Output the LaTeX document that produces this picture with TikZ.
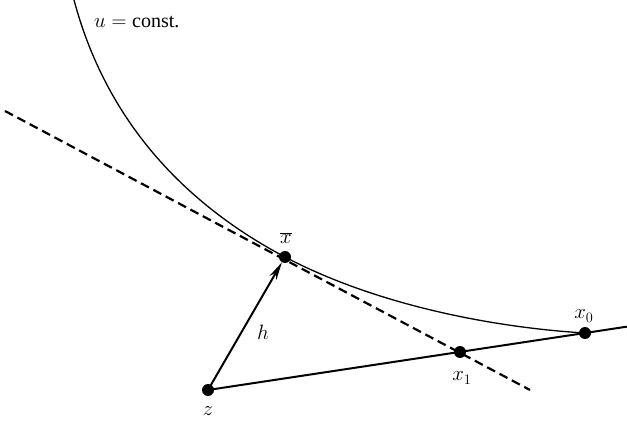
\documentclass[tikz,border=0pt]{standalone}
\usepackage{fontspec}
\setmainfont{Liberation Serif}
\usetikzlibrary{calc,arrows.meta}
\begin{document}
\begin{tikzpicture}[x=1pt,y=-1pt,
  pt/.style={circle,fill=black,inner sep=0pt,minimum size=12pt},
  lab/.style={inner sep=1pt,font=\fontsize{20}{24}\selectfont},
  solidline/.style={line width=2pt},
  dashline/.style={line width=2.2pt,dash pattern=on 9pt off 5pt},
  curveline/.style={line width=1.3pt}]
\useasboundingbox (0,0) rectangle (627,422);
\node[pt] (z) at (208,390) {};
\node[pt] (xb) at (285,257) {};
\node[pt] (x1) at (460,352) {};
\node[pt] (x0) at (585,333) {};
\coordinate (cs) at (74,0);
\coordinate (lineend) at ($(z)!1.111!(x0)$);
\coordinate (dstart) at ($(xb)!-1.6!(x1)+(0,6)$);
\coordinate (dend) at ($(xb)!1.40!(x1)$);
% curve u = const
\draw[curveline] (cs) .. controls (110,135) and (200,212) .. (xb.center)
  .. controls (380,307) and (500,328) .. (x0.center);
% dashed tangent
\draw[dashline] (dstart) -- (dend);
% solid line
\draw[solidline] (z.center) -- (lineend);
% arrow h
\draw[solidline,-{Stealth[length=18pt,width=8pt]}] (z.center) -- (xb);
% labels
\node[lab,anchor=west] (ulab) at (93,22) {$u = \mbox{const.}$};
\node[lab] (xbl) at (286,238) {$\overline{x}$};
\node[lab] (hl) at (263,332) {$h$};
\node[lab] (zl) at (208,411) {$z$};
\node[lab] (x1l) at (462,378) {$x_1$};
\node[lab] (x0l) at (584,316) {$x_0$};
\end{tikzpicture}
\end{document}
